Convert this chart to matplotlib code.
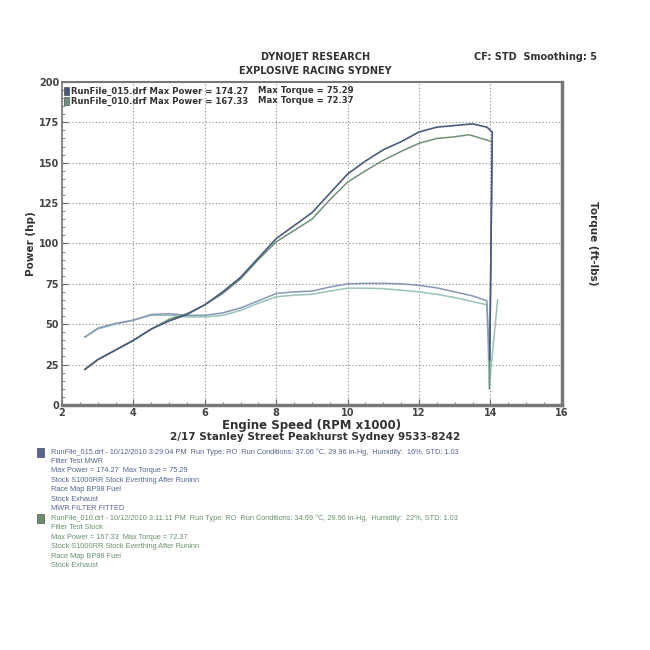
import matplotlib.pyplot as plt
from matplotlib.ticker import MultipleLocator
from matplotlib.patches import Rectangle

# run 015 (MWR filter)
rpm_p015 = [2.64, 3.0, 3.5, 4.0, 4.5, 5.0, 5.5, 6.0, 6.5, 7.0, 7.5, 8.0, 8.5, 9.0, 9.5,
            10.0, 10.5, 11.0, 11.5, 12.0, 12.5, 13.0, 13.5, 13.9, 14.05, 13.98]
power_015 = [22, 28, 34, 40, 47, 52, 56, 62, 70, 79, 91, 103, 111, 119, 131,
             143, 151, 158, 163, 169, 172, 173, 174, 172, 169, 28]
rpm_t015 = [2.64, 3.0, 3.5, 4.0, 4.5, 5.0, 5.5, 6.0, 6.5, 7.0, 7.5, 8.0, 8.5, 9.0, 9.5,
            10.0, 10.5, 11.0, 11.5, 12.0, 12.5, 13.0, 13.5, 13.9, 13.97]
torque_015 = [42, 47.5, 50.5, 52.5, 56, 56.5, 55.5, 55.5, 57, 60, 64.5, 69, 70, 70.5, 73,
              75, 75.3, 75.3, 75, 74, 72.5, 70, 67.5, 64.5, 28]

# run 010 (stock filter)
rpm_p010 = [2.64, 3.0, 3.5, 4.0, 4.5, 5.0, 5.5, 6.0, 6.5, 7.0, 7.5, 8.0, 8.5, 9.0, 9.5,
            10.0, 10.5, 11.0, 11.5, 12.0, 12.5, 13.0, 13.4, 13.9, 14.05, 13.97]
power_010 = [22, 28, 34, 40, 47, 53, 56.5, 62, 69, 78, 90, 101, 108, 115, 127,
             138, 145, 151.5, 157, 162, 165, 166, 167.3, 164, 163, 10]
rpm_t010 = [2.64, 3.0, 3.5, 4.0, 4.5, 5.0, 5.5, 6.0, 6.5, 7.0, 7.5, 8.0, 8.5, 9.0, 9.5,
            10.0, 10.5, 11.0, 11.5, 12.0, 12.5, 13.0, 13.5, 13.9, 13.97, 14.2]
torque_010 = [42, 47, 50, 52.5, 55.5, 55.5, 54.5, 54.5, 55.5, 58.5, 63, 67, 68, 68.5, 70.5,
              72.3, 72.3, 72, 71, 70, 68.5, 66.5, 64, 62, 12, 65]

x_ticks = [2, 4, 6, 8, 10, 12, 14, 16]
y_ticks = [0, 25, 50, 75, 100, 125, 150, 175, 200]

notes_015 = [
    'RunFile_015.drf - 10/12/2010 3:29:04 PM  Run Type: RO  Run Conditions: 37.06 °C, 29.96 in-Hg,  Humidity:  16%, STD: 1.03',
    'Filter Test MWR',
    'Max Power = 174.27  Max Torque = 75.29',
    'Stock S1000RR Stock Everthing After Runinn',
    'Race Map BP98 Fuel',
    'Stock Exhaust',
    'MWR FILTER FITTED',
]
notes_010 = [
    'RunFile_010.drf - 10/12/2010 3:11:11 PM  Run Type: RO  Run Conditions: 34.69 °C, 29.96 in-Hg,  Humidity:  22%, STD: 1.03',
    'Filter Test Stock',
    'Max Power = 167.33  Max Torque = 72.37',
    'Stock S1000RR Stock Everthing After Runinn',
    'Race Map BP98 Fuel',
    'Stock Exhaust',
]

c015 = '#4b5a7a'
c010 = '#6f8f78'
c015_t = '#8797b5'
c010_t = '#98c2b8'
txt = '#444444'

fig = plt.figure(figsize=(6.5, 6.5), dpi=100)
fig.patch.set_facecolor('white')
ax = fig.add_axes([0.0954, 0.377, 0.769, 0.497])

ax.plot(rpm_t010, torque_010, color=c010_t, lw=1.1)
ax.plot(rpm_t015, torque_015, color=c015_t, lw=1.1)
ax.plot(rpm_p010, power_010, color=c010, lw=1.1)
ax.plot(rpm_p015, power_015, color=c015, lw=1.2)

ax.set_xlim(2, 16)
ax.set_ylim(0, 200)
ax.set_xticks(x_ticks)
ax.set_yticks(y_ticks)
ax.xaxis.set_minor_locator(MultipleLocator(0.5))
ax.yaxis.set_minor_locator(MultipleLocator(5))
ax.grid(True, which='major', color='#888888', ls=(0, (1, 2)), lw=0.8)
ax.tick_params(which='both', direction='in', colors='#666666', labelcolor=txt,
               labelsize=7, right=True, labelright=True, pad=2)
ax.tick_params(which='major', length=4)
ax.tick_params(which='minor', length=2)
for lab in ax.get_xticklabels() + ax.get_yticklabels():
    lab.set_fontweight('bold')
for side in ax.spines:
    ax.spines[side].set_color('#777777')
ax.spines['bottom'].set_linewidth(2.5)
ax.spines['right'].set_linewidth(2.5)
ax.spines['left'].set_linewidth(1.2)
ax.spines['top'].set_linewidth(1.5)

ax.set_xlabel('Engine Speed (RPM x1000)', fontsize=8.5, fontweight='bold', color='#333333', labelpad=1)
ax.set_ylabel('Power (hp)', fontsize=7.5, fontweight='bold', color='#333333', labelpad=2)
ax2 = ax.twinx()
ax2.set_ylim(0, 200)
ax2.set_yticks([])
for side in ax2.spines:
    ax2.spines[side].set_visible(False)
ax2.set_ylabel('Torque (ft-lbs)', fontsize=7.5, fontweight='bold', color='#333333',
               rotation=270, labelpad=26)

# legend inside plot
for i, (name, mp, mt, col) in enumerate([('RunFile_015.drf', '174.27', '75.29', c015),
                                         ('RunFile_010.drf', '167.33', '72.37', c010)]):
    yy = 0.972 - i * 0.031
    ax.add_patch(Rectangle((0.003, yy - 0.014), 0.011, 0.026, transform=ax.transAxes,
                           facecolor=col, edgecolor='#333333', lw=0.4))
    ax.text(0.017, yy, name + ' Max Power = ' + mp, transform=ax.transAxes, fontsize=6.1,
            fontweight='bold', color='#333333', va='center')
    ax.text(0.392, yy, 'Max Torque = ' + mt, transform=ax.transAxes, fontsize=6.1,
            fontweight='bold', color='#333333', va='center')

# header
fig.text(0.485, 0.907, 'DYNOJET RESEARCH', ha='center', fontsize=7, fontweight='bold', color='#333333')
fig.text(0.485, 0.886, 'EXPLOSIVE RACING SYDNEY', ha='center', fontsize=7, fontweight='bold', color='#333333')
fig.text(0.918, 0.907, 'CF: STD  Smoothing: 5', ha='right', fontsize=7, fontweight='bold', color='#333333')
fig.text(0.485, 0.328, '2/17 Stanley Street Peakhurst Sydney 9533-8242', ha='center', va='center',
         fontsize=7.5, fontweight='bold', color='#333333')

# run notes
for notes, col, y0 in [(notes_015, '#56668e', 0.3046), (notes_010, '#6a9070', 0.203)]:
    fig.patches.append(Rectangle((0.057, y0 - 0.007), 0.010, 0.013, transform=fig.transFigure,
                                 facecolor=col, edgecolor='#333333', lw=0.4))
    for k, line in enumerate(notes):
        fig.text(0.078, y0 - k * 0.0146, line, fontsize=5.3, color=col,
                 family='Liberation Sans', va='center')

fig.savefig('out.png', dpi=100, facecolor='white')
